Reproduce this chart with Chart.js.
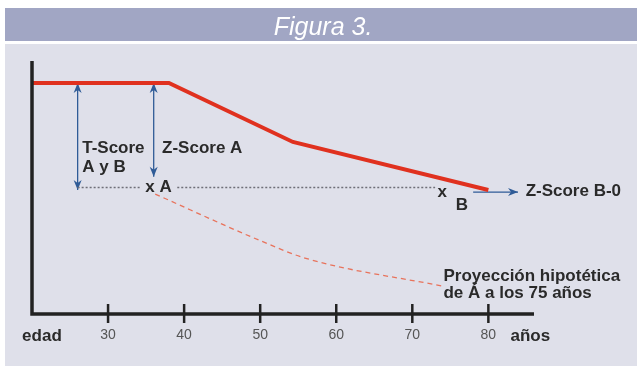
<!DOCTYPE html>
<html>
<head>
<meta charset="utf-8">
<script src="https://cdn.jsdelivr.net/npm/chart.js@4.4.0/dist/chart.umd.min.js"></script>
<style>
  html, body { margin: 0; padding: 0; background: #fff; overflow: hidden; }
</style>
</head>
<body>
<canvas id="grafico" width="637" height="366"></canvas>
<script>
// Curva de masa ósea por edad
const ages = [20, 38, 54.3, 80];
const boneMass = [91.3, 91.3, 68, 49];

// Proyección hipotética de A
const projAges = [36.2, 50, 56, 74];
const projValues = [47.4, 29, 22, 11];

// Línea punteada de referencia (A y B)
const refAgesLeft = [26, 34.3];
const refAgesRight = [39.1, 73];
const refLevel = 50;

const xTicks = [30, 40, 50, 60, 70, 80];

// Flechas en coordenadas de datos (edad, nivel)
const arrows = [
  { x1: 26, y1: 91.3, x2: 26, y2: 49, both: true },
  { x1: 36, y1: 91.3, x2: 36, y2: 54.2, both: true },
  { x1: 78, y1: 48.2, x2: 83.9, y2: 48.2, both: false }
];

// Textos: x en edad, y = línea base en píxeles
const labels = [
  { text: 'T-Score', x: 26.6, base: 153 },
  { text: 'A y B', x: 26.6, base: 172 },
  { text: 'Z-Score A', x: 37.1, base: 153 },
  { text: 'x A', x: 34.9, base: 192 },
  { text: 'x', x: 73.3, base: 197 },
  { text: 'B', x: 75.7, base: 210 },
  { text: 'Z-Score B-0', x: 84.9, base: 196 },
  { text: 'Proyección hipotética', x: 74.1, base: 281 },
  { text: 'de Á a los 75 años', x: 74.1, base: 298 },
  { text: 'edad', x: 18.7, base: 341 },
  { text: 'años', x: 82.9, base: 341 }
];

const FONT = "'Liberation Sans', Arial, Helvetica, sans-serif";
Chart.defaults.font.family = FONT;

function toPoints(xs, ys) {
  return xs.map((x, i) => ({ x: x, y: Array.isArray(ys) ? ys[i] : ys }));
}

function arrowHead(ctx, x, y, angle) {
  ctx.save();
  ctx.translate(x, y);
  ctx.rotate(angle);
  ctx.beginPath();
  ctx.moveTo(0, 0);
  ctx.lineTo(-10, -4);
  ctx.lineTo(-7, 0);
  ctx.lineTo(-10, 4);
  ctx.closePath();
  ctx.fill();
  ctx.restore();
}

const decorado = {
  id: 'decorado',
  beforeDraw(chart) {
    const ctx = chart.ctx;
    ctx.save();
    ctx.fillStyle = '#ffffff';
    ctx.fillRect(0, 0, chart.width, chart.height);
    ctx.fillStyle = '#a1a6c4';
    ctx.fillRect(5, 8, chart.width - 5, 33);
    ctx.fillStyle = '#dfe0ea';
    ctx.fillRect(5, 44, chart.width - 5, chart.height - 44);
    ctx.fillStyle = '#ffffff';
    ctx.font = 'italic 25px ' + FONT;
    ctx.textAlign = 'center';
    ctx.textBaseline = 'alphabetic';
    ctx.fillText('Figura 3.', 323, 35);
    ctx.restore();
  },
  beforeDatasetsDraw(chart) {
    const ctx = chart.ctx;
    const xs = chart.scales.x, ys = chart.scales.y;
    ctx.save();
    ctx.strokeStyle = '#2f5b97';
    ctx.fillStyle = '#2f5b97';
    ctx.lineWidth = 1.3;
    arrows.forEach(a => {
      const x1 = xs.getPixelForValue(a.x1), y1 = ys.getPixelForValue(a.y1);
      const x2 = xs.getPixelForValue(a.x2), y2 = ys.getPixelForValue(a.y2);
      const ang = Math.atan2(y2 - y1, x2 - x1);
      ctx.beginPath();
      ctx.moveTo(x1, y1);
      ctx.lineTo(x2, y2);
      ctx.stroke();
      arrowHead(ctx, x2, y2, ang);
      if (a.both) arrowHead(ctx, x1, y1, ang + Math.PI);
    });
    ctx.restore();
  },
  afterDatasetsDraw(chart) {
    const ctx = chart.ctx;
    const xs = chart.scales.x;
    const { left, right, top, bottom } = chart.chartArea;
    ctx.save();
    // ejes
    ctx.strokeStyle = '#222222';
    ctx.lineWidth = 3.5;
    ctx.beginPath();
    ctx.moveTo(left, top);
    ctx.lineTo(left, bottom);
    ctx.lineTo(right, bottom);
    ctx.stroke();
    ctx.lineWidth = 2.5;
    xTicks.forEach(v => {
      const px = xs.getPixelForValue(v);
      ctx.beginPath();
      ctx.moveTo(px, bottom - 10);
      ctx.lineTo(px, bottom + 9);
      ctx.stroke();
    });
    // textos
    ctx.fillStyle = '#2a2a2a';
    ctx.font = 'bold 17px ' + FONT;
    ctx.textAlign = 'left';
    ctx.textBaseline = 'alphabetic';
    labels.forEach(l => {
      ctx.fillText(l.text, xs.getPixelForValue(l.x), l.base);
    });
    ctx.restore();
  }
};

new Chart(document.getElementById('grafico'), {
  type: 'line',
  data: {
    datasets: [
      {
        data: toPoints(ages, boneMass),
        borderColor: '#e0311f',
        borderWidth: 4,
        pointRadius: 0
      },
      {
        data: toPoints(projAges, projValues),
        borderColor: '#e8735c',
        borderWidth: 1.3,
        borderDash: [5, 4],
        cubicInterpolationMode: 'monotone',
        pointRadius: 0
      },
      {
        data: toPoints(refAgesLeft, refLevel),
        borderColor: '#6f6f78',
        borderWidth: 1.5,
        borderDash: [2, 2],
        pointRadius: 0
      },
      {
        data: toPoints(refAgesRight, refLevel),
        borderColor: '#6f6f78',
        borderWidth: 1.5,
        borderDash: [2, 2],
        pointRadius: 0
      }
    ]
  },
  options: {
    responsive: false,
    animation: false,
    events: [],
    layout: { padding: { left: 32, right: 103, top: 61, bottom: 0 } },
    plugins: {
      legend: { display: false },
      tooltip: { enabled: false },
      title: { display: false }
    },
    scales: {
      x: {
        type: 'linear',
        min: 20,
        max: 86,
        afterBuildTicks: scale => { scale.ticks = xTicks.map(v => ({ value: v })); },
        afterFit: scale => { scale.height = 52; },
        grid: { display: false, drawTicks: false },
        border: { display: false },
        ticks: {
          color: '#555555',
          font: { size: 14 },
          padding: 13,
          maxRotation: 0,
          autoSkip: false
        }
      },
      y: {
        type: 'linear',
        min: 0,
        max: 100,
        display: false
      }
    }
  },
  plugins: [decorado]
});
</script>
</body>
</html>
